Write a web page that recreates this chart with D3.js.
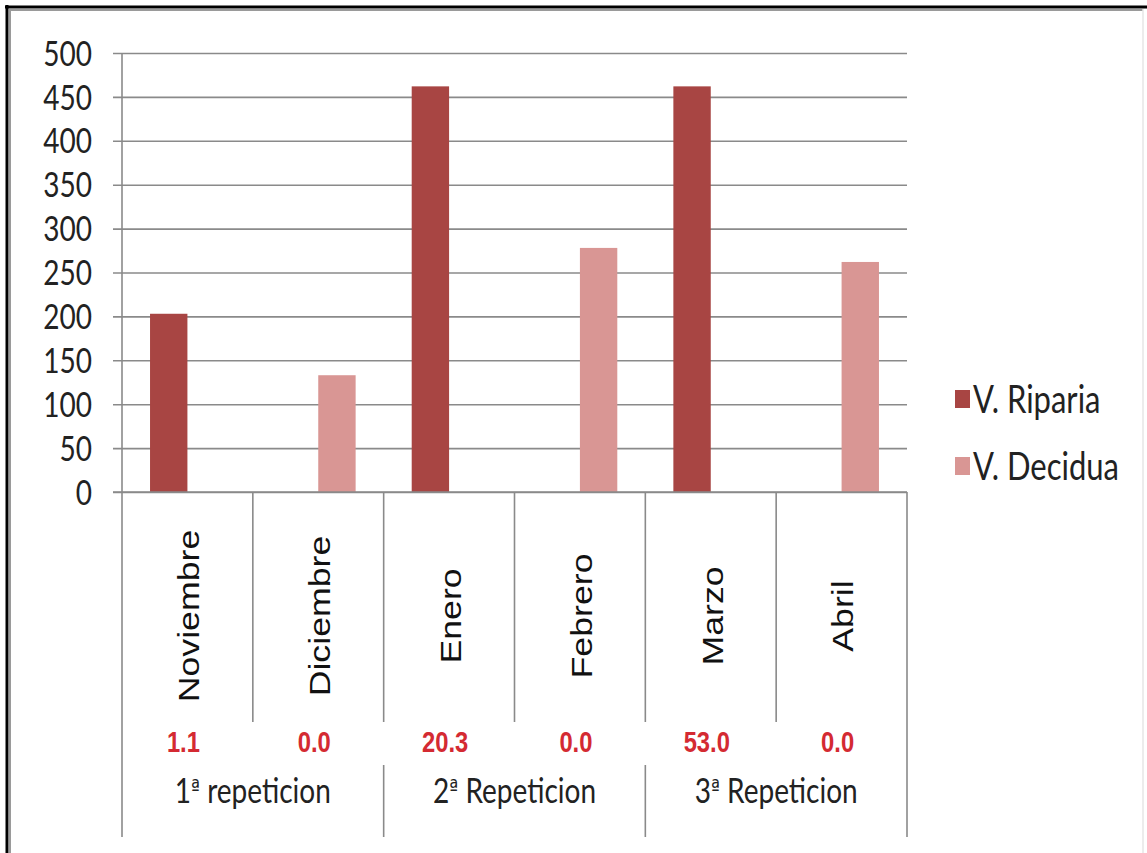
<!DOCTYPE html>
<html>
<head>
<meta charset="utf-8">
<script src="https://cdn.jsdelivr.net/npm/d3@7"></script>
<style>
  html, body { margin: 0; padding: 0; background: #fff; }
  svg { display: block; }
</style>
</head>
<body>
<svg id="chart" width="1147" height="853"></svg>
<script>
// Months and their repetition groups
const months = ["Noviembre", "Diciembre", "Enero", "Febrero", "Marzo", "Abril"];
const groupNumbers = ["1", "2", "3"];
const groupWords = ["repeticion", "Repeticion", "Repeticion"];
const groupSpans = [[0, 1], [2, 3], [4, 5]];

// Series values per month
const seriesNames = ["V. Riparia", "V. Decidua"];
const riparia = [203, 0, 462, 0, 462, 0];
const decidua = [0, 133, 0, 278, 0, 262];

// Values printed under each month
const monthNotes = ["1.1", "0.0", "20.3", "0.0", "53.0", "0.0"];

// Y axis ticks
const yTicks = [0, 50, 100, 150, 200, 250, 300, 350, 400, 450, 500];

const colors = { "V. Riparia": "#a84543", "V. Decidua": "#d99694" };
const gridColor = "#8a8a8a";

const svg = d3.select("#chart");

// Frame
svg.append("rect").attr("width", 1147).attr("height", 853).attr("fill", "#fff");
svg.append("line").attr("x1", 5).attr("x2", 1147).attr("y1", 7).attr("y2", 7)
  .attr("stroke", "#000").attr("stroke-width", 3);
svg.append("line").attr("x1", 7).attr("x2", 7).attr("y1", 5).attr("y2", 853)
  .attr("stroke", "#000").attr("stroke-width", 3);
svg.append("line").attr("x1", 9).attr("x2", 1143).attr("y1", 10).attr("y2", 10)
  .attr("stroke", "#9a9a9a").attr("stroke-width", 2);
svg.append("line").attr("x1", 10).attr("x2", 10).attr("y1", 9).attr("y2", 853)
  .attr("stroke", "#9a9a9a").attr("stroke-width", 2);
svg.append("line").attr("x1", 1143).attr("x2", 1143).attr("y1", 9).attr("y2", 853)
  .attr("stroke", "#e6e6e6").attr("stroke-width", 1.5);

// Scales
const plotLeft = 122, plotRight = 907, plotTop = 53, plotBottom = 492;
const y = d3.scaleLinear().domain([0, 500]).range([plotBottom, plotTop]);
const x = d3.scaleBand().domain(months).range([plotLeft, plotRight]).paddingInner(0).paddingOuter(0);
const xs = d3.scaleBand().domain(seriesNames).range([0, x.bandwidth()]).paddingInner(0).paddingOuter(0.75);

// Gridlines + tick marks
const yAxis = d3.axisLeft(y).tickValues(yTicks).tickSize(-(plotRight - plotLeft)).tickFormat("");
const gy = svg.append("g").attr("transform", `translate(${plotLeft},0)`).call(yAxis);
gy.select(".domain").remove();
gy.selectAll(".tick line").attr("stroke", gridColor).attr("stroke-width", 1.6).attr("x1", -9);

// Y tick labels
svg.append("g").selectAll("text").data(yTicks).join("text")
  .attr("transform", d => `translate(92,${y(d)}) scale(1,1.25)`)
  .attr("text-anchor", "end")
  .attr("dy", "0.36em")
  .attr("font-family", "Lato, sans-serif")
  .attr("font-size", 28)
  .attr("fill", "#222")
  .text(d => d);

// Y axis line
svg.append("line").attr("x1", plotLeft).attr("x2", plotLeft).attr("y1", plotTop).attr("y2", 837)
  .attr("stroke", gridColor).attr("stroke-width", 1.6);

// Bars
const rows = months.map((m, i) => ({ month: m, values: [
  { series: "V. Riparia", value: riparia[i] },
  { series: "V. Decidua", value: decidua[i] }
]}));
svg.append("g").selectAll("g").data(rows).join("g")
  .attr("transform", d => `translate(${x(d.month)},0)`)
  .selectAll("rect").data(d => d.values.filter(v => v.value > 0)).join("rect")
  .attr("x", d => xs(d.series))
  .attr("width", xs.bandwidth())
  .attr("y", d => y(d.value))
  .attr("height", d => y(0) - y(d.value))
  .attr("fill", d => colors[d.series]);

// Baseline
svg.append("line").attr("x1", 113).attr("x2", plotRight).attr("y1", y(0)).attr("y2", y(0))
  .attr("stroke", gridColor).attr("stroke-width", 1.6);

// Category separators
const sepGroup = svg.append("g").attr("stroke", gridColor).attr("stroke-width", 1.6);
months.forEach((m, i) => {
  if (i === 0) return;
  const xx = x(m);
  sepGroup.append("line").attr("x1", xx).attr("x2", xx).attr("y1", plotBottom).attr("y2", 722);
});
groupSpans.forEach((s, gi) => {
  if (gi === 0) return;
  const xx = x(months[s[0]]);
  sepGroup.append("line").attr("x1", xx).attr("x2", xx).attr("y1", 765).attr("y2", 837);
});
sepGroup.append("line").attr("x1", plotRight).attr("x2", plotRight).attr("y1", plotBottom).attr("y2", 837);

// Month labels (rotated, stretched along the reading direction)
svg.append("g").selectAll("text").data(months).join("text")
  .attr("transform", d => `translate(${x(d) + x.bandwidth() / 2 + 1},616) rotate(-90) scale(1.19,1)`)
  .attr("text-anchor", "middle")
  .attr("dy", "0.36em")
  .attr("font-family", "'Liberation Sans', Arial, sans-serif")
  .attr("font-size", 30)
  .attr("fill", "#111")
  .text(d => d);

// Notes under months
svg.append("g").selectAll("text").data(monthNotes).join("text")
  .attr("transform", (d, i) => `translate(${x(months[i]) + x.bandwidth() / 2 - 4},752) scale(0.82,1)`)
  .attr("text-anchor", "middle")
  .attr("font-family", "'Liberation Sans', Arial, sans-serif")
  .attr("font-weight", "bold")
  .attr("font-size", 29)
  .attr("fill", "#d42a32")
  .text(d => d);

// Group labels: number, raised underlined ordinal indicator, word
const gl = svg.append("g").selectAll("text").data(groupNumbers).join("text")
  .attr("transform", (d, i) => {
    const s = groupSpans[i];
    const cx = (x(months[s[0]]) + x(months[s[1]]) + x.bandwidth()) / 2;
    return `translate(${cx},803) scale(1,1.25)`;
  })
  .attr("text-anchor", "middle")
  .attr("font-family", "Lato, sans-serif")
  .attr("font-size", 28)
  .attr("fill", "#222");
gl.append("tspan").text(d => d);
gl.append("tspan").attr("font-family", "'DejaVu Sans', sans-serif").attr("font-size", 19)
  .attr("dy", -6).text("ª");
gl.append("tspan").attr("dy", 6).text((d, i) => " " + groupWords[i]);

// Legend
const legend = svg.append("g").selectAll("g").data(seriesNames).join("g")
  .attr("transform", (d, i) => `translate(955,${399 + i * 67})`);
legend.append("rect").attr("x", 0).attr("y", -9).attr("width", 15).attr("height", 18)
  .attr("fill", d => colors[d]);
legend.append("text")
  .attr("transform", "translate(18,0) scale(1,1.25)")
  .attr("dy", "0.36em")
  .attr("font-family", "Lato, sans-serif")
  .attr("font-size", 31)
  .attr("fill", "#222")
  .text(d => d);
</script>
</body>
</html>
